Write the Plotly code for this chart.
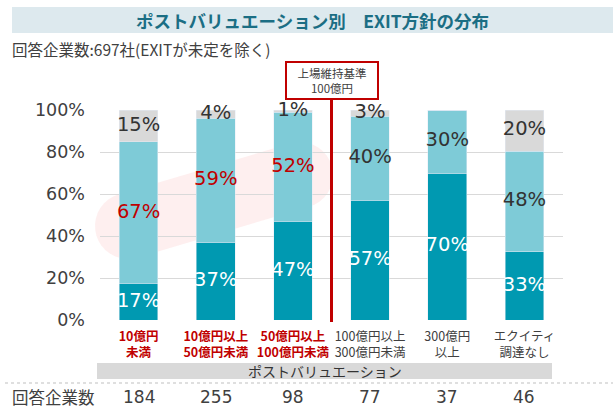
import math
import plotly.graph_objects as go

# ---------------- data ----------------
categories = ["10億円<br>未満", "10億円以上<br>50億円未満", "50億円以上<br>100億円未満",
              "100億円以上<br>300億円未満", "300億円<br>以上", "エクイティ<br>調達なし"]
cat_colors = ["#c00000", "#c00000", "#c00000", "#404040", "#404040", "#404040"]
series_bottom = [0.174, 0.37, 0.47, 0.57, 0.70, 0.326]   # dark teal
series_middle = [0.674, 0.59, 0.52, 0.40, 0.30, 0.478]   # light teal
series_top = [0.152, 0.04, 0.01, 0.03, 0.0, 0.196]       # gray
mid_label_colors = ["#c00000", "#c00000", "#c00000", "#333333", "#333333", "#333333"]
counts = [184, 255, 98, 77, 37, 46]
y_ticks = [0, 0.2, 0.4, 0.6, 0.8, 1.0]

JP = "Noto Sans CJK JP"
NUM = "DejaVu Sans, Noto Sans CJK JP"
W, H = 613, 409
L, R, T, B = 100, 50, 110, 89
PW, PH = W - L - R, H - T - B

def px(x):
    return (x - L) / PW

def py(y):
    return (H - B - y) / PH

xs = list(range(len(categories)))

fig = go.Figure()
fig.add_bar(x=xs, y=series_bottom, marker_color="#0099b1", hoverinfo="skip")
fig.add_bar(x=xs, y=series_middle, marker_color="#7ecbd7", hoverinfo="skip")
fig.add_bar(x=xs, y=series_top, marker_color="#d9d9d9", hoverinfo="skip")

# labels centered in each segment
def seg_labels(vals, bases, colors):
    lx, ly, lt, lc = [], [], [], []
    for i, (v, b) in enumerate(zip(vals, bases)):
        if v <= 0:
            continue
        lx.append(i)
        ly.append(b + v / 2)
        lt.append(f"{round(v * 100)}%")
        lc.append(colors[i])
    fig.add_scatter(x=lx, y=ly, text=lt, mode="text", cliponaxis=False,
                    textfont=dict(family=NUM, size=19.5, color=lc),
                    hoverinfo="skip")

zeros = [0] * len(xs)
seg_labels(series_bottom, zeros, ["#ffffff"] * len(xs))
seg_labels(series_middle, series_bottom, mid_label_colors)
seg_labels(series_top, [a + b for a, b in zip(series_bottom, series_middle)], ["#333333"] * len(xs))

# pink highlight pill (rotated rounded rectangle) behind the first three bars
c1, c2, rad = (128, 226), (300, 175), 33
ang = math.atan2(c2[1] - c1[1], c2[0] - c1[0])
pts = []
for k in range(0, 181, 10):
    a = ang + math.pi / 2 + math.radians(k)
    pts.append((c1[0] + rad * math.cos(a), c1[1] + rad * math.sin(a)))
for k in range(0, 181, 10):
    a = ang - math.pi / 2 + math.radians(k)
    pts.append((c2[0] + rad * math.cos(a), c2[1] + rad * math.sin(a)))
path = "M " + " L ".join(f"{px(x):.4f},{py(y):.4f}" for x, y in pts) + " Z"
shapes = [
    dict(type="path", path=path, xref="paper", yref="paper", fillcolor="#fde9e9",
         line=dict(width=0), layer="below", opacity=0.75),
    # title band
    dict(type="rect", xref="paper", yref="paper", x0=px(12), x1=px(613), y0=py(33), y1=py(7),
         fillcolor="#dde9ee", line=dict(width=0)),
    # red threshold line
    dict(type="line", xref="x", yref="paper", x0=2.5, x1=2.5, y0=py(322), y1=py(96),
         line=dict(color="#c00000", width=3)),
    # bottom grey band
    dict(type="rect", xref="paper", yref="paper", x0=px(97), x1=px(552), y0=py(379), y1=py(363),
         fillcolor="#d9d9d9", line=dict(width=0)),
    # dotted separator
    dict(type="line", xref="paper", yref="paper", x0=px(5), x1=px(613), y0=py(383), y1=py(383),
         line=dict(color="#bfbfbf", width=1, dash="dot")),
]

annotations = [
    dict(text="<b>ポストバリュエーション別　EXIT方針の分布</b>", xref="paper", yref="paper",
         x=px(312), y=py(20), showarrow=False, xanchor="center", yanchor="middle",
         font=dict(family=JP, size=17.5, color="#1b6e84")),
    dict(text="回答企業数:697社(EXITが未定を除く)", xref="paper", yref="paper",
         x=px(10), y=py(49), showarrow=False, xanchor="left", yanchor="middle",
         font=dict(family=JP, size=15.5, color="#404040")),
    dict(text="上場維持基準<br>100億円", xref="x", yref="paper", x=2.5, y=py(80),
         showarrow=False, xanchor="center", yanchor="middle", bgcolor="#ffffff",
         bordercolor="#c00000", borderwidth=2, borderpad=2, width=86,
         font=dict(family=JP, size=11.5, color="#404040")),
    dict(text="ポストバリュエーション", xref="paper", yref="paper",
         x=px(325), y=py(371), showarrow=False, xanchor="center", yanchor="middle",
         font=dict(family=JP, size=14, color="#333333")),
    dict(text="回答企業数", xref="paper", yref="paper",
         x=px(10), y=py(397), showarrow=False, xanchor="left", yanchor="middle",
         font=dict(family=JP, size=16.5, color="#404040")),
]
for i, c in enumerate(counts):
    annotations.append(dict(text=str(c), xref="x", yref="paper", x=i, y=py(397),
                            showarrow=False, xanchor="center", yanchor="middle",
                            font=dict(family=NUM, size=17, color="#404040")))

ticktext = [f"<span style='color:{col}'>{'<b>' + t + '</b>' if col == '#c00000' else t}</span>"
            for t, col in zip(categories, cat_colors)]

fig.update_layout(
    width=W, height=H, barmode="stack", bargap=0.5, showlegend=False,
    margin=dict(l=L, r=R, t=T, b=B, pad=0),
    paper_bgcolor="#ffffff", plot_bgcolor="#ffffff",
    font=dict(family=JP, color="#404040"),
    shapes=shapes, annotations=annotations,
    xaxis=dict(tickmode="array", tickvals=xs, ticktext=ticktext, range=[-0.5, 5.5],
               showgrid=False, zeroline=False, showline=False, ticks="",
               tickfont=dict(family=JP, size=12.5, color="#404040"), ticklabelstandoff=7),
    yaxis=dict(range=[0, 1], tickvals=y_ticks, tickformat=".0%", showgrid=True,
               gridcolor="#d9d9d9", gridwidth=1, zeroline=False, showline=False, ticks="",
               tickfont=dict(family=NUM, size=17.5, color="#404040"),
               ticklabelstandoff=14),
)

fig.write_html("out.html", config={"displayModeBar": False},
               post_script="document.body.style.margin='0';document.body.style.padding='0';")
